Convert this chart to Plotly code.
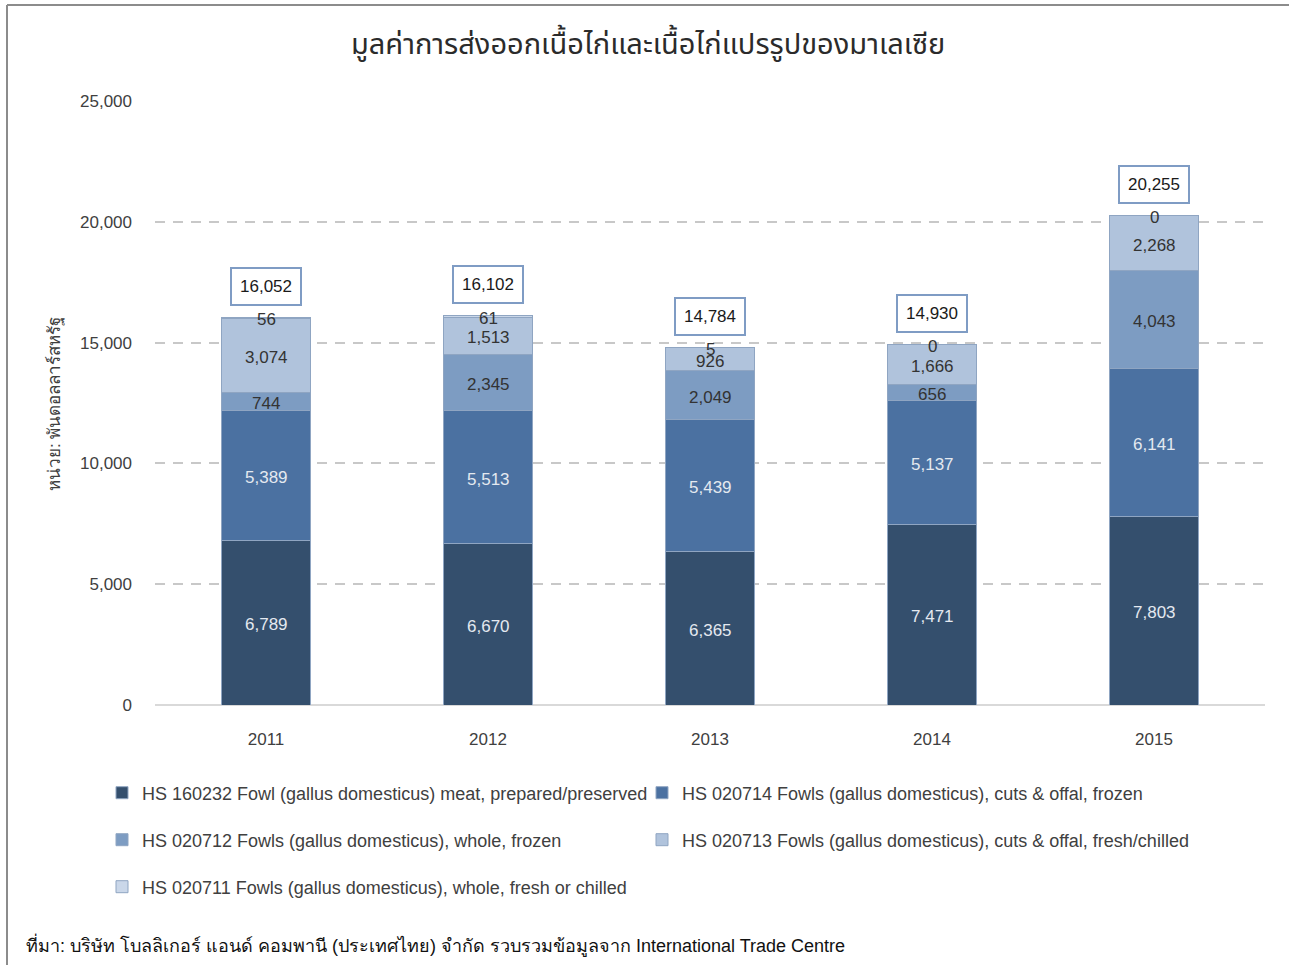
import plotly.graph_objects as go

years = ["2011", "2012", "2013", "2014", "2015"]
series_names = [
    "HS 160232 Fowl (gallus domesticus) meat, prepared/preserved",
    "HS 020714 Fowls (gallus domesticus), cuts & offal, frozen",
    "HS 020712 Fowls (gallus domesticus), whole, frozen",
    "HS 020713 Fowls (gallus domesticus), cuts & offal, fresh/chilled",
    "HS 020711 Fowls (gallus domesticus), whole, fresh or chilled",
]
hs160232 = [6789, 6670, 6365, 7471, 7803]
hs020714 = [5389, 5513, 5439, 5137, 6141]
hs020712 = [744, 2345, 2049, 656, 4043]
hs020713 = [3074, 1513, 926, 1666, 2268]
hs020711 = [56, 61, 5, 0, 0]
totals = [16052, 16102, 14784, 14930, 20255]

title = "มูลค่าการส่งออกเนื้อไก่และเนื้อไก่แปรรูปของมาเลเซีย"
y_title = "หน่วย: พันดอลลาร์สหรัฐ"
source = "ที่มา: บริษัท โบลลิเกอร์ แอนด์ คอมพานี (ประเทศไทย) จำกัด รวบรวมข้อมูลจาก International Trade Centre"

series = [hs160232, hs020714, hs020712, hs020713, hs020711]
colors = ["#344F6D", "#4B71A1", "#7D9CC2", "#B0C3DC", "#CAD7E9"]
label_colors = ["#E4E9F0", "#E4E9F0", "#333333", "#333333", "#333333"]
legend_ids = ["legend", "legend2", "legend3", "legend4", "legend5"]

FONT = "Liberation Sans, Arial, sans-serif"


def px_x(p):
    return (p - 155) / 1110


def px_y(p):
    return (705 - p) / 604


# legend slot positions (pixel anchors for each single-item legend)
legend_pos = [(102, 793), (642, 793), (102, 840), (642, 840), (102, 887)]

fig = go.Figure()
for name, vals, col, lg in zip(series_names, series, colors, legend_ids):
    fig.add_trace(go.Bar(
        x=years, y=vals, name=name,
        marker=dict(color=col, line=dict(color="#8FA5C2", width=1)),
        legend=lg, hoverinfo="y+name",
    ))

annotations = []
# segment labels at segment midpoints (category index positions)
base = [0] * len(years)
for vals, tc in zip(series, label_colors):
    for i, v in enumerate(vals):
        annotations.append(dict(
            x=i, y=base[i] + v / 2, xref="x", yref="y", yshift=-2,
            text=f"{v:,}", showarrow=False,
            font=dict(family=FONT, size=17, color=tc),
        ))
        base[i] += v

# totals in boxes
for i, t in enumerate(totals):
    annotations.append(dict(
        x=i, y=t, xref="x", yref="y", yshift=31,
        text=f"{t:,}", showarrow=False,
        font=dict(family=FONT, size=17, color="#1a1a1a"),
        bgcolor="white", bordercolor="#7F9CC4", borderwidth=2, borderpad=8,
    ))

annotations.append(dict(
    text=title, x=px_x(648), y=px_y(45), xref="paper", yref="paper",
    showarrow=False, font=dict(family="Noto Sans Thai, Noto Sans, sans-serif", size=29, color="#2b2b2b"),
    xanchor="center", yanchor="middle",
))
annotations.append(dict(
    text=y_title, x=px_x(55), y=px_y(404), xref="paper", yref="paper",
    showarrow=False, textangle=-90, font=dict(family=FONT, size=17, color="#404040"),
    xanchor="center", yanchor="middle",
))
annotations.append(dict(
    text=source, x=px_x(24), y=px_y(945), xref="paper", yref="paper",
    showarrow=False, font=dict(family=FONT, size=18, color="#111111"),
    xanchor="left", yanchor="middle",
))

shapes = [
    dict(type="line", xref="paper", yref="paper", x0=px_x(7), x1=px_x(1300), y0=px_y(5), y1=px_y(5),
         line=dict(color="#8C8C8C", width=2)),
    dict(type="line", xref="paper", yref="paper", x0=px_x(7), x1=px_x(7), y0=px_y(5), y1=px_y(980),
         line=dict(color="#8C8C8C", width=2)),
]

legend_common = dict(
    orientation="h", xanchor="left", yanchor="middle",
    font=dict(family=FONT, size=18, color="#404040"),
    bgcolor="rgba(0,0,0,0)", itemclick=False, itemdoubleclick=False,
)
legends = {}
for lg, (lx, ly) in zip(legend_ids, legend_pos):
    legends[lg] = dict(x=px_x(lx), y=px_y(ly), **legend_common)

fig.update_layout(
    width=1289, height=965,
    margin=dict(l=155, r=24, t=101, b=260),
    paper_bgcolor="white", plot_bgcolor="white",
    barmode="stack", bargap=0.595,
    showlegend=True,
    annotations=annotations, shapes=shapes,
    font=dict(family=FONT, color="#404040"),
    **legends,
)
fig.update_yaxes(
    range=[0, 25000], dtick=5000, tickformat=",",
    showgrid=True, gridcolor="#C8C8C8", gridwidth=2, griddash="10px,8px",
    zeroline=True, zerolinecolor="#D9D9D9", zerolinewidth=2,
    tickfont=dict(family=FONT, size=17, color="#404040"),
    ticklabelstandoff=22, fixedrange=True,
)
fig.update_xaxes(
    type="category", range=[-0.5, 4.5],
    showgrid=False, showline=False, ticks="",
    tickfont=dict(family=FONT, size=17, color="#404040"),
    ticklabelstandoff=22, fixedrange=True,
)

fig.write_html("out.html", post_script="document.body.style.margin='0px';",
               config={"displayModeBar": False})
